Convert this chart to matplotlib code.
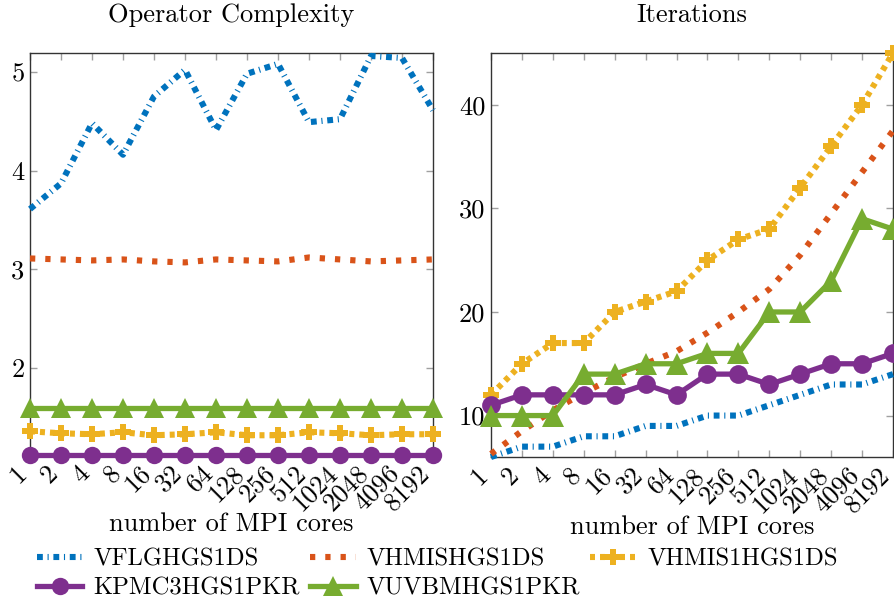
import numpy as np
import matplotlib
matplotlib.use("Agg")
import matplotlib.pyplot as plt
from matplotlib.transforms import ScaledTranslation

plt.rcParams['font.family'] = ['cmr10', 'DejaVu Serif']
plt.rcParams['axes.formatter.use_mathtext'] = True
plt.rcParams['lines.scale_dashes'] = False

cores = ["1", "2", "4", "8", "16", "32", "64", "128", "256", "512",
         "1024", "2048", "4096", "8192"]

# Operator complexity
oc_vflg = [3.61, 3.87, 4.48, 4.16, 4.75, 5.02, 4.41, 4.98, 5.08, 4.49, 4.52, 5.16, 5.14, 4.61]
oc_vhmis = [3.11, 3.10, 3.09, 3.10, 3.08, 3.07, 3.10, 3.09, 3.08, 3.12, 3.10, 3.08, 3.09, 3.10]
oc_vhmis1 = [1.36, 1.34, 1.33, 1.35, 1.32, 1.33, 1.35, 1.32, 1.32, 1.35, 1.34, 1.32, 1.33, 1.33]
oc_kpmc3 = [1.12] * 14
oc_vuvbm = [1.6] * 14

# Iterations
it_vflg = [6, 7, 7, 8, 8, 9, 9, 10, 10, 11, 12, 13, 13, 14]
it_vhmis = [6.3, 8.5, 10.5, 12.2, 13.7, 15, 16.2, 18, 20, 22.2, 25.5, 29.5, 33.5, 37.5]
it_vhmis1 = [12, 15, 17, 17, 20, 21, 22, 25, 27, 28, 32, 36, 40, 45]
it_kpmc3 = [11, 12, 12, 12, 12, 13, 12, 14, 14, 13, 14, 15, 15, 16]
it_vuvbm = [10, 10, 10, 14, 14, 15, 15, 16, 16, 20, 20, 23, 29, 28]

labels = ["VFLGHGS1DS", "VHMISHGS1DS", "VHMIS1HGS1DS", "KPMC3HGS1PKR", "VUVBMHGS1PKR"]
colors = ["#0072BD", "#D95319", "#EDB120", "#7E2F8E", "#77AC30"]

oc_ticks = [2, 3, 4, 5]
it_ticks = [10, 20, 30, 40]

FS = 19
LFS = 17.8

fig = plt.figure(figsize=(8.95, 6.02), dpi=100)
ax1 = fig.add_axes([30/895, 1-455/602, 403/895, 402/602])
ax2 = fig.add_axes([491/895, 1-457/602, 402/895, 404/602])

x = np.arange(len(cores))


def draw(ax, series, msize):
    lines = []
    l, = ax.plot(x, series[0], color=colors[0], lw=4.4, dashes=(4.2, 3.4, 0.8, 3.4),
                 dash_capstyle='butt', clip_on=False, zorder=3)
    lines.append(l)
    l, = ax.plot(x, series[1], color=colors[1], lw=4.4, dashes=(3.8, 7.2),
                 dash_capstyle='butt', clip_on=False, zorder=3)
    lines.append(l)
    l, = ax.plot(x, series[2], color=colors[2], lw=4.4, dashes=(3.6, 3.6),
                 dash_capstyle='butt', marker='P', markersize=msize * 0.9,
                 markeredgewidth=0, clip_on=False, zorder=3)
    lines.append(l)
    l, = ax.plot(x, series[3], color=colors[3], lw=3.8, marker='o',
                 markersize=msize, markeredgewidth=0, clip_on=False, zorder=4)
    lines.append(l)
    l, = ax.plot(x, series[4], color=colors[4], lw=3.8, marker='^',
                 markersize=msize * 1.15, markeredgewidth=0, clip_on=False, zorder=4)
    lines.append(l)
    return lines


handles = draw(ax1, [oc_vflg, oc_vhmis, oc_vhmis1, oc_kpmc3, oc_vuvbm], 12.5)
draw(ax2, [it_vflg, it_vhmis, it_vhmis1, it_kpmc3, it_vuvbm], 13.5)

ax1.set_ylim(1.12, 5.19)
ax2.set_ylim(6, 45)
ax1.set_yticks(oc_ticks)
ax1.set_yticklabels([str(t) for t in oc_ticks])
ax2.set_yticks(it_ticks)
ax2.set_yticklabels([str(t) for t in it_ticks])

shift = ScaledTranslation(-0.065, -0.145, fig.dpi_scale_trans)
for ax, title in [(ax1, "Operator Complexity"), (ax2, "Iterations")]:
    ax.set_xlim(0, len(cores) - 1)
    ax.set_xticks(x)
    ax.set_xticklabels([])
    for i, c in enumerate(cores):
        ax.text(i, 0, c, transform=ax.get_xaxis_transform() + shift,
                rotation=45, ha='right', va='center', rotation_mode='anchor',
                fontsize=FS, clip_on=False)
    ax.tick_params(axis='both', direction='in', length=5, width=1,
                   color='#a0a0a0', top=True, right=True, labelsize=FS, pad=4)
    for s in ax.spines.values():
        s.set_color('#333333')
        s.set_linewidth(1.0)
    ax.set_title(title, fontsize=FS, pad=22)
    ax.set_xlabel("number of MPI cores", fontsize=FS)
    ax.xaxis.set_label_coords(0.5, -0.143)

order = [0, 3, 1, 4, 2]
fig.legend([handles[i] for i in order], [labels[i] for i in order], ncol=3,
           loc='upper left', bbox_to_anchor=(0.041, 0.089), frameon=False,
           fontsize=LFS, handlelength=1.85, handletextpad=0.45, columnspacing=0.4,
           labelspacing=0.25, borderaxespad=0, borderpad=0)

fig.savefig("out.png", dpi=100)
